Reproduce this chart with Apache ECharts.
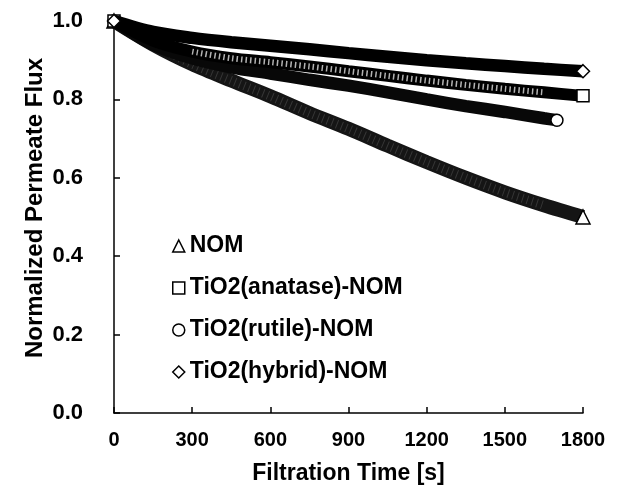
<!DOCTYPE html>
<html>
<head>
<meta charset="utf-8">
<script src="https://cdn.jsdelivr.net/npm/echarts@6/dist/echarts.min.js"></script>
<style>
html,body{margin:0;padding:0;background:#fff;}
#chart{width:621px;height:499px;}
</style>
</head>
<body>
<div id="chart"></div>
<script>
// ---- data ----
var timeFull = [0, 150, 300, 450, 600, 750, 900, 1050, 1200, 1350, 1500, 1650, 1800];
var timeRutile = [0, 150, 300, 450, 600, 750, 900, 1050, 1200, 1350, 1500, 1650, 1700];
var fluxNOM     = [1.000, 0.940, 0.890, 0.848, 0.808, 0.765, 0.725, 0.682, 0.640, 0.600, 0.563, 0.530, 0.500];
var fluxAnatase = [1.000, 0.950, 0.922, 0.905, 0.895, 0.884, 0.872, 0.860, 0.848, 0.837, 0.827, 0.818, 0.809];
var fluxRutile  = [1.000, 0.940, 0.905, 0.882, 0.866, 0.850, 0.835, 0.818, 0.800, 0.783, 0.768, 0.752, 0.747];
var fluxHybrid  = [1.000, 0.972, 0.957, 0.946, 0.937, 0.928, 0.918, 0.909, 0.900, 0.892, 0.885, 0.878, 0.872];
var seriesNames = ['NOM', 'TiO2(anatase)-NOM', 'TiO2(rutile)-NOM', 'TiO2(hybrid)-NOM'];
var xTickStep = 300;
var yTickStep = 0.2;

var FONT = "'Liberation Sans', Arial, sans-serif";
var hollow = {color: '#fff', borderColor: '#000', borderWidth: 1.5};

function build(times, vals, symbol, size) {
  return vals.map(function (v, i) {
    var item = {value: [times[i], v]};
    if (i === vals.length - 1 || i === 0) {
      item.symbol = symbol;
      item.symbolSize = size;
      item.itemStyle = hollow;
    } else {
      item.symbol = 'none';
    }
    return item;
  });
}
function plain(times, vals) {
  return vals.map(function (v, i) { return [times[i], v]; });
}

var chart = echarts.init(document.getElementById('chart'));
chart.setOption({
  animation: false,
  backgroundColor: '#fff',
  grid: {left: 114, right: 38, top: 21, bottom: 86, containLabel: false},
  xAxis: {
    type: 'value', min: 0, max: 1800, interval: xTickStep,
    name: 'Filtration Time [s]', nameLocation: 'middle', nameGap: 49, nameMoveOverlap: false,
    nameTextStyle: {fontFamily: FONT, fontWeight: 'bold', fontSize: 23, color: '#000'},
    axisLine: {lineStyle: {color: '#000', width: 1.5}},
    axisTick: {inside: true, length: 6, lineStyle: {color: '#000', width: 1.5}},
    axisLabel: {margin: 17, fontFamily: FONT, fontWeight: 'bold', fontSize: 20, color: '#000',
      formatter: function (v) { return String(v); }},
    splitLine: {show: false}
  },
  yAxis: {
    type: 'value', min: 0, max: 1, interval: yTickStep,
    name: 'Normalized Permeate Flux', nameLocation: 'middle', nameGap: 67, nameMoveOverlap: false,
    nameTextStyle: {fontFamily: FONT, fontWeight: 'bold', fontSize: 24, color: '#000', padding: [0, 0, 0, 18]},
    axisLine: {show: true, lineStyle: {color: '#000', width: 1.5}},
    axisTick: {show: true, inside: true, length: 6, lineStyle: {color: '#000', width: 1.5}},
    axisLabel: {margin: 31, fontFamily: FONT, fontWeight: 'bold', fontSize: 22, color: '#000',
      formatter: function (v) { return v.toFixed(1); }},
    splitLine: {show: false}
  },
  legend: {
    orient: 'vertical', left: 167, top: 229, itemGap: 18,
    itemWidth: 12, itemHeight: 12,
    itemStyle: {color: '#fff', borderColor: '#000', borderWidth: 1.5},
    lineStyle: {width: 0, opacity: 0},
    textStyle: {fontFamily: FONT, fontWeight: 'bold', fontSize: 23, color: '#000', lineHeight: 24},
    data: [
      {name: seriesNames[0], icon: 'triangle'},
      {name: seriesNames[1], icon: 'rect'},
      {name: seriesNames[2], icon: 'circle'},
      {name: seriesNames[3], icon: 'diamond'}
    ],
    selectedMode: false
  },
  series: [
    {
      name: seriesNames[0], type: 'line', smooth: 0.3, showSymbol: true, z: 2,
      lineStyle: {color: '#151515', width: 14}, itemStyle: {color: '#000'},
      data: build(timeFull, fluxNOM, 'triangle', 14)
    },
    {
      type: 'line', smooth: 0.3, showSymbol: false, silent: true, z: 2,
      lineStyle: {color: '#fff', width: 9, type: [1, 4], opacity: 0.14},
      data: plain(timeFull.slice(1, -1), fluxNOM.slice(1, -1))
    },
    {
      name: seriesNames[2], type: 'line', smooth: 0.3, showSymbol: true, z: 3,
      lineStyle: {color: '#080808', width: 12.5}, itemStyle: {color: '#000'},
      data: build(timeRutile, fluxRutile, 'circle', 12)
    },
    {
      name: seriesNames[1], type: 'line', smooth: 0.3, showSymbol: true, z: 4,
      lineStyle: {color: '#000', width: 12}, itemStyle: {color: '#000'},
      data: build(timeFull, fluxAnatase, 'rect', 12)
    },
    {
      type: 'line', smooth: 0.3, showSymbol: false, silent: true, z: 4,
      lineStyle: {color: '#fff', width: 6, type: [1.5, 3], opacity: 0.7},
      data: plain(timeFull.slice(2, -1), fluxAnatase.slice(2, -1))
    },
    {
      name: seriesNames[3], type: 'line', smooth: 0.3, showSymbol: true, z: 5,
      lineStyle: {color: '#000', width: 12.5}, itemStyle: {color: '#000'},
      data: build(timeFull, fluxHybrid, 'diamond', 13)
    }
  ]
});
</script>
</body>
</html>
